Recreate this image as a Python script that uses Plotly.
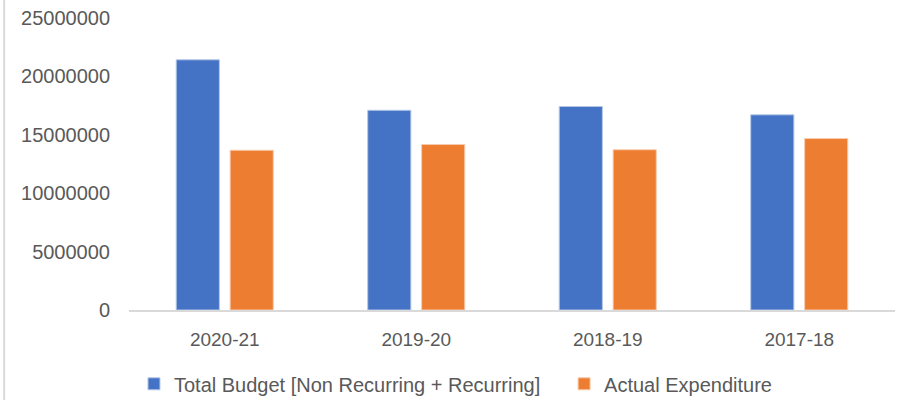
import plotly.graph_objects as go

categories = ["2020-21", "2019-20", "2018-19", "2017-18"]
total_budget = [21420000, 17100000, 17420000, 16710000]
actual_expenditure = [13680000, 14170000, 13720000, 14680000]
y_ticks = [0, 5000000, 10000000, 15000000, 20000000, 25000000]

font_fam = "Liberation Sans, Arial, sans-serif"
gray = "#595959"

fig = go.Figure()
fig.add_trace(go.Bar(x=categories, y=total_budget, name="Total Budget [Non Recurring + Recurring]",
                     marker=dict(color="#4472C4", line=dict(color="#b4c7e7", width=1)),
                     legend="legend"))
fig.add_trace(go.Bar(x=categories, y=actual_expenditure, name="Actual Expenditure",
                     marker=dict(color="#ED7D31", line=dict(color="#f8cbad", width=1)),
                     legend="legend2"))

legend_common = dict(orientation="h", xanchor="left", y=-0.186, yanchor="top",
                     font=dict(size=20, color=gray), itemwidth=30)

fig.update_layout(
    width=900, height=400,
    margin=dict(l=129, r=5, t=18, b=90, autoexpand=False),
    paper_bgcolor="white", plot_bgcolor="white",
    barmode="group", bargap=0.437, bargroupgap=0.2,
    font=dict(family=font_fam, color=gray, size=17),
    showlegend=True,
    legend=dict(x=0.0065, **legend_common),
    legend2=dict(x=0.568, **legend_common),
    xaxis=dict(showline=True, linecolor="#d9d9d9", linewidth=1.5, ticks="",
               tickfont=dict(size=19, color=gray), showgrid=False, automargin=False,
               ticklabelstandoff=11),
    yaxis=dict(range=[0, 25000000], tickvals=y_ticks, tickformat="d",
               showgrid=False, zeroline=False, showline=False, automargin=False,
               tickfont=dict(size=20, color=gray), ticklabelstandoff=18),
    shapes=[dict(type="line", xref="paper", yref="paper", x0=-0.163, x1=-0.163,
                 y0=-0.308, y1=1.062, line=dict(color="#d9d9d9", width=2))],
)

fig.write_html("out.html", config={"displayModeBar": False},
               post_script="document.body.style.margin='0';")
